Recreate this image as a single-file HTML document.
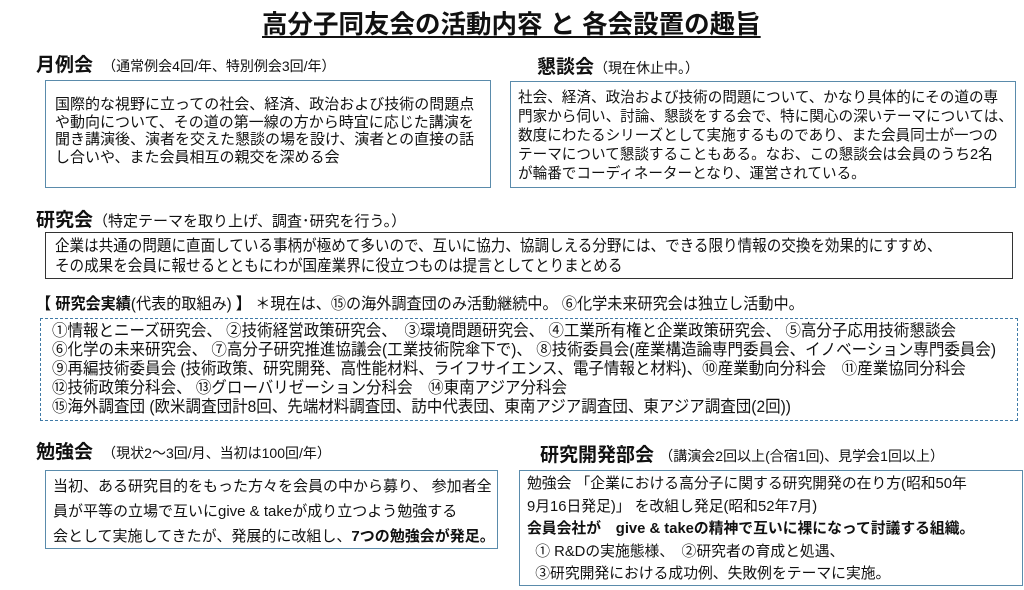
<!DOCTYPE html>
<html><head><meta charset="utf-8"><style>
body{margin:0;width:1024px;height:590px;background:#fff;position:relative;overflow:hidden;font-family:"Liberation Sans","Noto Sans CJK JP",sans-serif;color:#111}
.a{position:absolute;white-space:nowrap}
.h{font-weight:bold;font-size:19px}
.s{font-weight:normal;font-size:14px}
.box{position:absolute;border:1.5px solid #5a8bab;box-sizing:border-box}
.t{position:absolute;white-space:nowrap;font-size:14.5px}
.c{position:absolute;white-space:nowrap;font-size:15px;transform-origin:left top}
</style></head><body>
<div class="a" style="left:262px;top:4px;font-size:25.5px;font-weight:bold;text-decoration:underline;text-underline-offset:3px">高分子同友会の活動内容 と 各会設置の趣旨</div>

<div class="a h" style="left:36px;top:50px">月例会 <span class="s">&nbsp;（通常例会4回/年、特別例会3回/年）</span></div>
<div class="box" style="left:45px;top:80px;width:446px;height:108px"></div>
<div class="t" style="left:55px;top:96px;line-height:17.5px;font-size:15px">国際的な視野に立っての社会、経済、政治および技術の問題点<br>や動向について、その道の第一線の方から時宜に応じた講演を<br>聞き講演後、演者を交えた懇談の場を設け、演者との直接の話<br>し合いや、また会員相互の親交を深める会</div>

<div class="a h" style="left:537px;top:52px">懇談会<span class="s">（現在休止中。）</span></div>
<div class="box" style="left:510px;top:81px;width:506px;height:107px"></div>
<div class="t" style="left:518px;top:89px;line-height:19px;font-size:14.6px">社会、経済、政治および技術の問題について、かなり具体的にその道の専<br>門家から伺い、討論、懇談をする会で、特に関心の深いテーマについては、<br>数度にわたるシリーズとして実施するものであり、また会員同士が一つの<br>テーマについて懇談することもある。なお、この懇談会は会員のうち2名<br>が輪番でコーディネーターとなり、運営されている。</div>

<div class="a h" style="left:36px;top:205px">研究会<span class="s" style="font-size:15px">（特定テーマを取り上げ、調査･研究を行う。）</span></div>
<div class="box" style="left:45px;top:232px;width:968px;height:47px;border-color:#333"></div>
<div class="c" style="left:55px;top:237px;line-height:20px;font-size:16px;transform:scaleX(.91)">企業は共通の問題に直面している事柄が極めて多いので、互いに協力、協調しえる分野には、できる限り情報の交換を効果的にすすめ、<br>その成果を会員に報せるとともにわが国産業界に役立つものは提言としてとりまとめる</div>

<div class="c" style="left:36px;top:290px;font-size:16px;transform:scaleX(.945)"><b>【 研究会実績</b>(代表的取組み) <b>】</b> ＊現在は、⑮の海外調査団のみ活動継続中。 ⑥化学未来研究会は独立し活動中。</div>
<div class="box" style="left:40px;top:318px;width:978px;height:103px;border:1.5px dashed #3f7aa6"></div>
<div class="c" style="left:52px;top:322px;line-height:19px;font-size:16.5px;transform:scaleX(.94)">①情報とニーズ研究会、 ②技術経営政策研究会、　③環境問題研究会、 ④工業所有権と企業政策研究会、 ⑤高分子応用技術懇談会<br>⑥化学の未来研究会、 ⑦高分子研究推進協議会(工業技術院傘下で)、 ⑧技術委員会(産業構造論専門委員会、イノベーション専門委員会)<br>⑨再編技術委員会 (技術政策、研究開発、高性能材料、ライフサイエンス、電子情報と材料)、⑩産業動向分科会　⑪産業協同分科会<br>⑫技術政策分科会、 ⑬グローバリゼーション分科会　⑭東南アジア分科会<br>⑮海外調査団 (欧米調査団計8回、先端材料調査団、訪中代表団、東南アジア調査団、東アジア調査団(2回))</div>

<div class="a h" style="left:36px;top:437px">勉強会 <span class="s">&nbsp;（現状2～3回/月、当初は100回/年）</span></div>
<div class="box" style="left:45px;top:470px;width:453px;height:79px"></div>
<div class="t" style="left:53px;top:474px;line-height:25px;font-size:15px">当初、ある研究目的をもった方々を会員の中から募り、 参加者全<br>員が平等の立場で互いにgive &amp; takeが成り立つよう勉強する<br>会として実施してきたが、発展的に改組し、<b>7つの勉強会が発足。</b></div>

<div class="a h" style="left:540px;top:440px">研究開発部会 <span class="s">（講演会2回以上(合宿1回)、見学会1回以上）</span></div>
<div class="box" style="left:519px;top:470px;width:504px;height:116px"></div>
<div class="t" style="left:527px;top:473px;line-height:22.5px;font-size:14.8px">勉強会 「企業における高分子に関する研究開発の在り方(昭和50年<br>9月16日発足)」 を改組し発足(昭和52年7月)<br><b>会員会社が　give &amp; takeの精神で互いに裸になって討議する組織。</b><br>&nbsp;&nbsp;① R&amp;Dの実施態様、　②研究者の育成と処遇、<br>&nbsp;&nbsp;③研究開発における成功例、失敗例をテーマに実施。</div>
</body></html>
